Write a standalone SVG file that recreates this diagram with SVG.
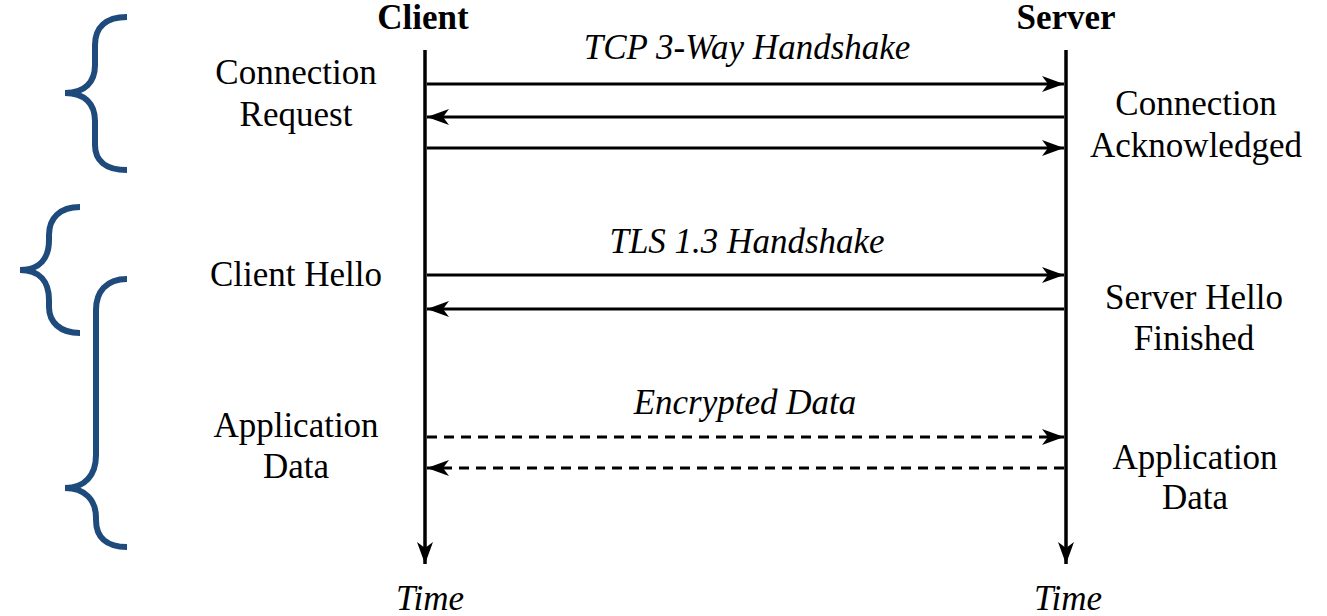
<svg xmlns="http://www.w3.org/2000/svg" width="1327" height="616" viewBox="0 0 1327 616">
<style>
text{font-family:"Liberation Serif","Times New Roman",serif;font-size:35px;fill:#000;text-anchor:middle}
.b{font-weight:bold}
.i{font-style:italic}
.msg{stroke:#000;stroke-width:3;fill:none}
.dash{stroke-dasharray:10 7}
.life{stroke:#000;stroke-width:3.5;fill:none}
.brace{stroke:#1F4A7C;stroke-width:6;fill:none}
</style>
<defs>
<marker id="ah" markerUnits="userSpaceOnUse" markerWidth="24" markerHeight="20" refX="0" refY="0" viewBox="-22 -10 24 20" orient="auto">
<path d="M0,0 L-22,-8 L-16,0 L-22,8 Z" fill="#000"/>
</marker>
</defs>
<g id="braces">
<path class="brace" d="M127,17 C105,17 95,28 95,45 L95,65 C95,82 85,93 65,93 C85,93 95,104 95,121 L95,145 C95,160 105,170 127,170"/>
<path class="brace" d="M80,207 C60,207 49,218 49,235 L49,240 C49,258 40,270 20,270 C40,270 49,282 49,300 L49,307 C49,322 60,333 80,333"/>
<path class="brace" d="M127,279 C106,279 96,292 96,310 L96,455 C96,475 85,488 65,488 C85,488 96,500 96,518 L96,520 C96,537 106,547 127,547"/>
</g>
<g id="client">
<text class="b" x="423" y="29">Client</text>
<line class="life" x1="425" y1="50" x2="425" y2="564" marker-end="url(#ah)"/>
<text class="i" x="430" y="610">Time</text>
</g>
<g id="server">
<text class="b" x="1066" y="29">Server</text>
<line class="life" x1="1066" y1="50" x2="1066" y2="564" marker-end="url(#ah)"/>
<text class="i" x="1068" y="610">Time</text>
</g>
<g id="connectors">
<line class="msg" x1="427" y1="84" x2="1064" y2="84" marker-end="url(#ah)"/>
<line class="msg" x1="1064" y1="117" x2="427" y2="117" marker-end="url(#ah)"/>
<line class="msg" x1="427" y1="148" x2="1064" y2="148" marker-end="url(#ah)"/>
<line class="msg" x1="427" y1="275" x2="1064" y2="275" marker-end="url(#ah)"/>
<line class="msg" x1="1064" y1="309" x2="427" y2="309" marker-end="url(#ah)"/>
<line class="msg dash" x1="427" y1="437" x2="1064" y2="437" marker-end="url(#ah)"/>
<line class="msg dash" x1="1064" y1="468" x2="427" y2="468" marker-end="url(#ah)"/>
</g>
<g id="labels">
<text class="i" x="747" y="59">TCP 3-Way Handshake</text>
<text class="i" x="747" y="253">TLS 1.3 Handshake</text>
<text class="i" x="745" y="414">Encrypted Data</text>
<text x="296" y="84">Connection</text>
<text x="296" y="126">Request</text>
<text x="1196" y="115">Connection</text>
<text x="1196" y="157">Acknowledged</text>
<text x="296" y="286">Client Hello</text>
<text x="1194" y="309">Server Hello</text>
<text x="1194" y="350">Finished</text>
<text x="296" y="437">Application</text>
<text x="296" y="478">Data</text>
<text x="1195" y="469">Application</text>
<text x="1195" y="509">Data</text>
</g>
</svg>
